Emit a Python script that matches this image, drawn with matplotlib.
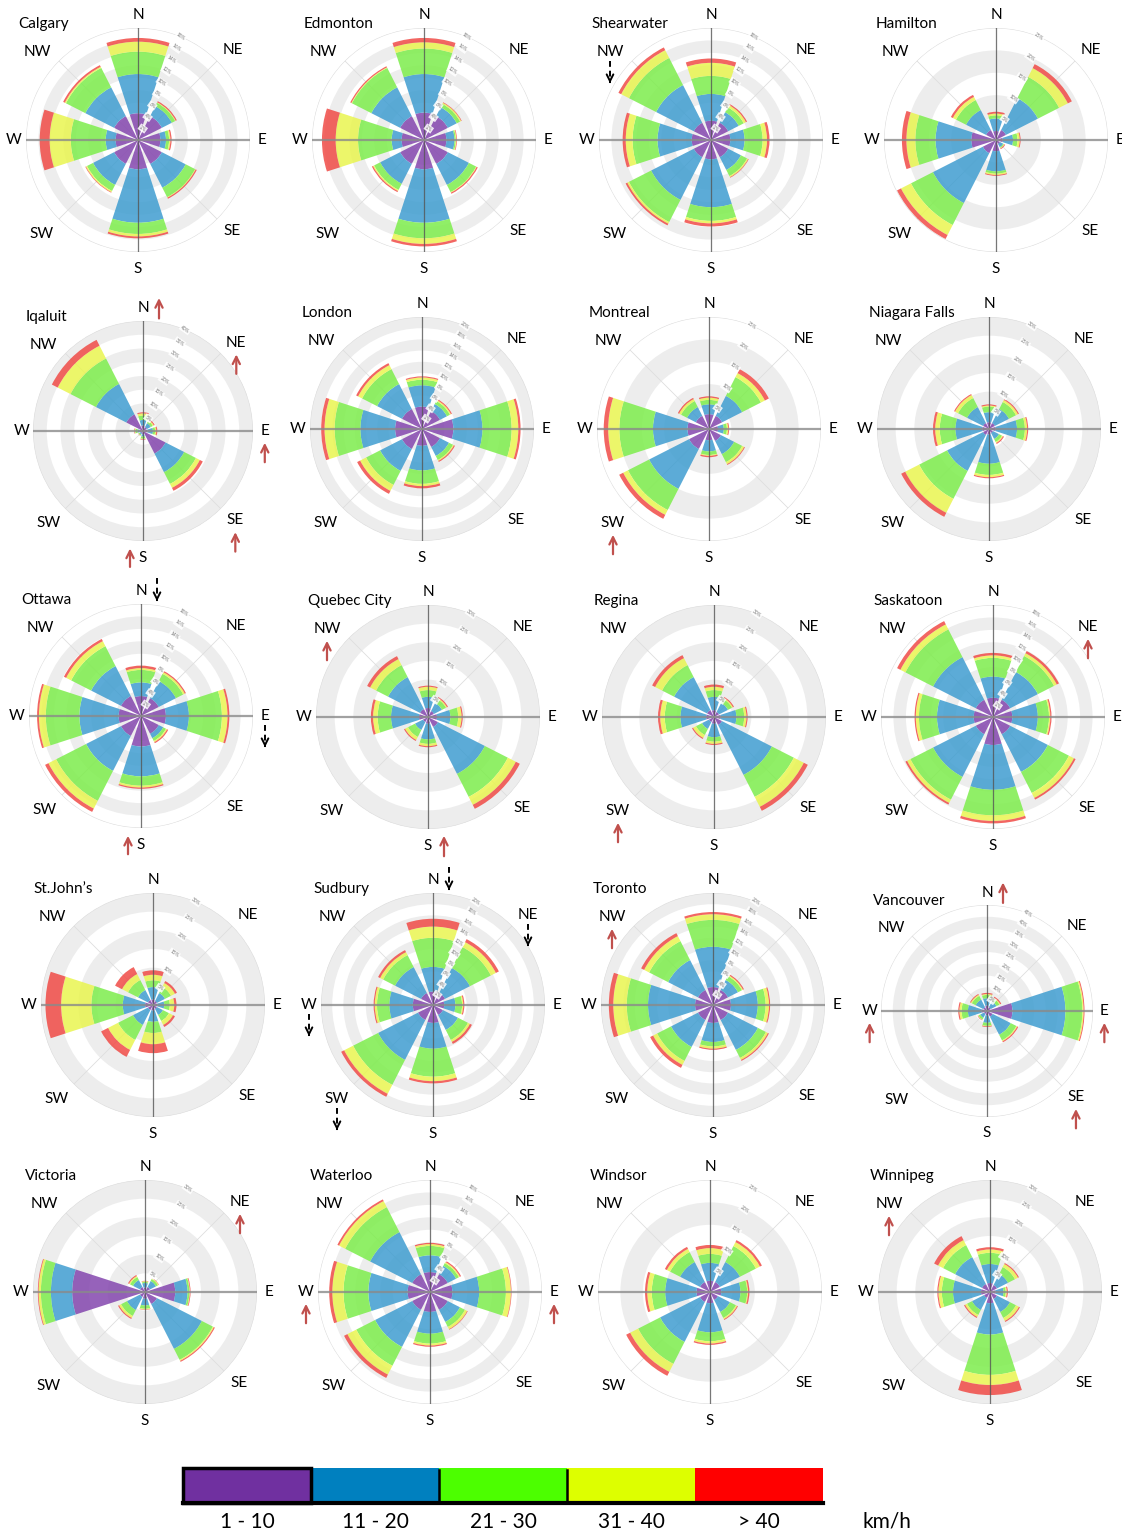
import numpy as np
import matplotlib.pyplot as plt

plt.rcParams['font.family'] = ['Lato', 'DejaVu Sans']

W, H = 1122, 1537

directions = ['N', 'NE', 'E', 'SE', 'S', 'SW', 'W', 'NW']
speed_labels = ['1 - 10', '11 - 20', '21 - 30', '31 - 40', '> 40']
speed_colors = ['#8446ae', '#3f9dd0', '#7ded4c', '#e9f550', '#f04b46']
legend_colors = ['#7030a0', '#0080bf', '#4cff00', '#ddff00', '#ff0000']

stations = ['Calgary', 'Edmonton', 'Shearwater', 'Hamilton',
            'Iqaluit', 'London', 'Montreal', 'Niagara Falls',
            'Ottawa', 'Quebec City', 'Regina', 'Saskatoon',
            'St.John\u2019s', 'Sudbury', 'Toronto', 'Vancouver',
            'Victoria', 'Waterloo', 'Windsor', 'Winnipeg']
scale_max = [18, 18, 18, 25, 40, 20, 25, 30, 18, 30, 30, 18, 30, 20, 20, 45, 30, 18, 25, 30]
scale_step = [2, 2, 2, 5, 5, 2, 5, 5, 2, 5, 5, 2, 5, 2, 2, 5, 5, 2, 5, 5]

# cumulative frequency (%) per direction, up to each speed class
calgary = [[4.3, 10.6, 14.2, 15.8, 16.4], [4.3, 6.1, 6.7, 6.8, 7.0], [3.6, 4.5, 5.0, 5.2, 5.4],
           [4.3, 8.6, 10.3, 10.4, 10.6], [4.7, 13.3, 15.1, 15.5, 15.8], [4.3, 8.1, 9.2, 9.4, 9.5],
           [3.6, 5.2, 10.8, 14.2, 15.8], [4.3, 9.5, 13.0, 13.2, 13.5]]
edmonton = [[4.4, 10.6, 14.7, 15.7, 16.4], [4.3, 5.9, 6.5, 6.7, 6.8], [3.6, 4.9, 5.1, 5.2, 5.3],
            [4.3, 8.1, 9.4, 9.5, 9.7], [4.7, 13.3, 15.8, 16.7, 17.1], [4.3, 7.9, 9.0, 9.2, 9.4],
            [3.6, 5.2, 10.6, 14.2, 16.4], [4.3, 9.5, 13.0, 13.1, 13.3]]
shearwater = [[3.1, 7.4, 10.3, 12.4, 13.1], [3.1, 5.0, 5.9, 6.3, 6.5], [3.1, 5.4, 8.3, 9.0, 9.4],
              [3.1, 5.4, 6.5, 6.7, 6.8], [3.1, 10.8, 13.0, 13.4, 13.9], [3.1, 10.8, 14.8, 15.1, 15.4],
              [3.1, 8.6, 12.6, 13.7, 14.2], [3.1, 9.9, 14.8, 16.2, 16.7]]
hamilton = [[2.0, 4.8, 5.5, 5.9, 6.3], [2.5, 10.5, 15.8, 18.0, 19.0], [1.5, 3.8, 4.8, 5.3, 5.5],
            [1.0, 1.8, 2.0, 2.1, 2.3], [2.5, 7.0, 7.5, 7.8, 8.0], [3.3, 15.8, 21.3, 23.8, 24.8],
            [5.5, 13.5, 18.0, 20.0, 21.0], [2.5, 7.5, 10.0, 10.8, 11.3]]
iqaluit = [[2.0, 4.0, 5.6, 6.4, 6.8], [1.6, 3.2, 4.0, 4.4, 4.8], [1.6, 3.6, 4.4, 4.8, 5.2],
           [9.2, 16.8, 21.6, 23.2, 24.4], [1.2, 2.0, 2.8, 3.0, 3.2], [0.8, 1.4, 1.8, 1.9, 2.0],
           [1.2, 2.0, 2.8, 3.0, 3.2], [6.8, 19.2, 29.6, 34.8, 37.2]]
london = [[4.0, 7.8, 8.8, 9.2, 9.4], [3.6, 5.0, 5.6, 5.8, 6.0], [5.6, 10.8, 16.0, 17.2, 17.6],
          [3.6, 5.4, 6.2, 6.4, 6.6], [3.0, 7.4, 9.8, 10.2, 10.6], [4.0, 8.4, 11.2, 12.4, 13.0],
          [4.8, 11.0, 15.6, 17.4, 18.0], [4.0, 9.0, 12.0, 12.8, 13.2]]
montreal = [[3.3, 5.5, 6.5, 7.0, 7.3], [3.3, 8.3, 13.0, 14.0, 15.0], [2.0, 3.3, 4.0, 4.3, 4.5],
            [3.0, 6.3, 8.3, 8.8, 9.0], [2.5, 5.0, 5.8, 6.0, 6.3], [5.0, 15.0, 20.3, 21.5, 22.5],
            [4.8, 12.5, 20.0, 22.5, 23.5], [3.3, 5.5, 7.0, 7.5, 7.8]]
niagara_falls = [[1.8, 4.5, 6.0, 6.3, 6.6], [1.8, 6.0, 8.1, 8.7, 9.0], [1.8, 7.5, 9.6, 10.2, 10.5],
                 [1.2, 3.0, 3.9, 4.2, 4.5], [1.5, 9.3, 12.3, 12.9, 13.2], [1.8, 12.6, 21.0, 25.2, 26.4],
                 [1.8, 9.0, 13.2, 14.4, 15.0], [1.8, 6.6, 9.3, 10.2, 10.5]]
ottawa = [[3.2, 5.4, 7.4, 7.7, 8.1], [3.2, 6.3, 7.6, 7.9, 8.1], [4.0, 7.7, 13.0, 13.9, 14.2],
          [3.2, 4.0, 4.5, 4.7, 4.9], [4.9, 9.7, 11.2, 11.5, 11.7], [3.6, 9.9, 15.3, 16.7, 17.3],
          [3.6, 9.9, 15.3, 16.4, 16.7], [3.6, 9.0, 12.6, 13.5, 13.9]]
quebec_city = [[2.4, 5.4, 7.2, 8.1, 8.4], [1.8, 4.2, 5.4, 5.7, 6.0], [2.4, 6.0, 8.1, 9.0, 9.3],
               [3.0, 17.1, 24.0, 26.4, 27.6], [1.8, 6.0, 7.2, 7.8, 8.1], [1.5, 3.9, 6.0, 6.9, 7.2],
               [2.4, 9.9, 13.5, 14.7, 15.3], [2.4, 12.0, 15.6, 17.4, 18.3]]
regina = [[1.8, 5.4, 7.2, 8.1, 8.7], [1.5, 4.2, 5.4, 5.7, 6.0], [1.8, 6.0, 8.1, 8.7, 9.0],
          [2.4, 17.4, 24.0, 27.0, 28.2], [1.8, 5.4, 6.6, 7.2, 7.5], [1.5, 3.6, 5.4, 6.3, 6.6],
          [2.1, 9.0, 13.2, 14.4, 15.0], [2.1, 12.0, 15.6, 17.7, 18.6]]
saskatoon = [[3.1, 6.5, 9.5, 9.9, 10.3], [3.1, 8.1, 11.0, 11.5, 11.9], [3.1, 7.2, 9.0, 9.2, 9.4],
             [3.1, 9.9, 13.7, 14.6, 14.9], [4.5, 11.7, 15.8, 16.7, 17.1], [3.1, 10.8, 14.9, 15.5, 15.8],
             [3.1, 9.0, 11.9, 12.4, 12.6], [3.1, 10.8, 15.8, 16.7, 17.3]]
st_johns = [[1.5, 4.8, 6.6, 8.1, 9.3], [1.2, 3.6, 5.4, 6.6, 7.2], [1.2, 3.0, 4.5, 5.7, 6.3],
            [1.2, 3.0, 4.8, 6.0, 6.6], [1.5, 4.5, 7.5, 10.5, 12.9], [1.5, 6.0, 10.5, 13.5, 15.6],
            [2.1, 8.1, 16.5, 24.6, 28.8], [1.5, 4.5, 7.5, 9.3, 11.4]]
sudbury = [[2.4, 6.8, 12.0, 14.0, 15.4], [2.4, 7.4, 11.6, 12.6, 13.2], [2.0, 4.0, 5.2, 5.4, 5.6],
           [2.0, 5.0, 7.0, 7.4, 7.8], [3.2, 7.8, 12.8, 13.6, 14.0], [3.0, 11.0, 16.0, 17.8, 18.4],
           [3.6, 7.8, 10.0, 10.4, 10.6], [2.4, 7.6, 10.0, 10.6, 11.0]]
toronto = [[3.2, 10.4, 15.2, 16.2, 16.6], [3.0, 5.0, 5.8, 6.0, 6.2], [3.2, 8.0, 9.4, 10.0, 10.2],
           [3.0, 9.0, 10.6, 11.0, 11.2], [3.2, 6.6, 7.4, 7.8, 8.0], [3.0, 8.4, 11.2, 12.0, 12.6],
           [3.2, 11.6, 15.4, 17.8, 18.6], [3.0, 9.0, 12.8, 13.8, 14.4]]
vancouver = [[2.3, 5.4, 6.8, 7.2, 7.7], [1.8, 4.5, 5.9, 6.3, 6.8], [10.8, 33.3, 40.5, 41.0, 41.4],
             [2.7, 11.3, 14.0, 14.4, 14.9], [1.8, 5.0, 6.3, 6.5, 6.8], [1.4, 3.2, 4.1, 4.3, 4.5],
             [2.3, 8.1, 10.8, 11.7, 12.2], [1.8, 5.4, 7.2, 7.7, 8.1]]
victoria = [[1.2, 2.4, 2.7, 2.9, 3.0], [1.5, 3.3, 3.9, 4.1, 4.2], [8.1, 11.4, 11.9, 12.0, 12.2],
            [3.6, 17.1, 20.4, 20.7, 21.0], [1.8, 3.6, 4.5, 4.7, 4.8], [1.5, 5.4, 7.2, 7.8, 8.1],
            [19.5, 25.2, 27.9, 28.5, 28.7], [1.5, 3.6, 4.5, 4.8, 5.1]]
waterloo = [[3.2, 5.9, 7.4, 7.7, 7.9], [3.2, 4.7, 5.2, 5.4, 5.6], [3.6, 7.9, 12.2, 13.0, 13.1],
            [3.2, 5.4, 6.3, 6.7, 6.8], [3.2, 6.7, 8.3, 8.6, 8.8], [3.2, 9.9, 13.3, 14.9, 15.5],
            [3.6, 9.9, 13.9, 15.7, 16.2], [3.2, 10.8, 15.3, 16.4, 16.7]]
windsor = [[2.5, 6.5, 8.5, 9.8, 10.5], [2.5, 7.5, 11.5, 12.5, 13.0], [2.5, 6.8, 8.3, 8.5, 8.8],
           [2.0, 5.0, 6.5, 6.8, 7.0], [2.5, 9.0, 11.0, 11.5, 11.8], [2.5, 12.5, 18.0, 20.0, 21.0],
           [3.0, 10.0, 13.0, 14.0, 14.5], [2.5, 7.5, 10.0, 10.8, 11.3]]
winnipeg = [[2.4, 7.5, 10.5, 11.4, 12.0], [2.1, 5.4, 7.5, 8.4, 8.7], [1.5, 3.6, 4.2, 4.5, 4.8],
            [2.1, 6.0, 7.8, 8.7, 9.0], [3.0, 11.4, 22.2, 24.9, 27.6], [1.8, 5.4, 6.9, 7.5, 7.8],
            [2.4, 9.9, 12.9, 13.8, 14.1], [2.4, 10.5, 14.1, 15.6, 16.8]]

station_data = [calgary, edmonton, shearwater, hamilton, iqaluit, london, montreal, niagara_falls,
                ottawa, quebec_city, regina, saskatoon, st_johns, sudbury, toronto, vancouver,
                victoria, waterloo, windsor, winnipeg]

# markers next to direction labels: (station, direction, side)
red_arrows = [('Iqaluit', 'N', 'right'), ('Iqaluit', 'NE', 'below'), ('Iqaluit', 'E', 'below'),
              ('Iqaluit', 'SE', 'below'), ('Iqaluit', 'S', 'left'), ('Montreal', 'SW', 'below'),
              ('Ottawa', 'S', 'left'), ('Quebec City', 'NW', 'below'), ('Quebec City', 'S', 'right'),
              ('Regina', 'SW', 'below'), ('Saskatoon', 'NE', 'below'), ('Toronto', 'NW', 'below'),
              ('Vancouver', 'N', 'right'), ('Vancouver', 'W', 'below'), ('Vancouver', 'E', 'below'),
              ('Vancouver', 'SE', 'below'), ('Victoria', 'NE', 'below'), ('Waterloo', 'W', 'below'),
              ('Waterloo', 'E', 'below'), ('Winnipeg', 'NW', 'below')]
black_arrows = [('Shearwater', 'NW', 'below'), ('Ottawa', 'N', 'right'), ('Ottawa', 'E', 'below'),
                ('Sudbury', 'N', 'right'), ('Sudbury', 'NE', 'below'), ('Sudbury', 'W', 'below'),
                ('Sudbury', 'SW', 'below')]

# layout (pixel centres of each rose)
centers = [(138, 140), (424, 140), (711, 140), (996, 140),
           (143, 431), (422, 429), (709, 429), (989, 429),
           (141, 716), (428, 717), (714, 717), (993, 717),
           (153, 1005), (433, 1005), (713, 1005), (987, 1011),
           (145, 1292), (430, 1292), (710, 1292), (990, 1292)]
radii = [112] * 20
radii[4] = 110
radii[15] = 106
label_offsets = [(0, -125), (95, -90), (124, 0), (94, 91), (0, 129), (-96, 94), (-124, 0), (-101, -88)]

fig = plt.figure(figsize=(W / 100, H / 100), dpi=100)
label_pos = {}

theta = np.deg2rad(np.arange(8) * 45)
for i, name in enumerate(stations):
    cx, cy = centers[i]
    R = radii[i]
    rmax, step = scale_max[i], scale_step[i]
    ax = fig.add_axes([(cx - R) / W, 1 - (cy + R) / H, 2 * R / W, 2 * R / H], projection='polar')
    ax.set_theta_zero_location('N')
    ax.set_theta_direction(-1)
    ax.set_axis_off()

    # alternating background rings
    nb = int(round(rmax / step))
    for k in range(nb):
        if k % 2 == 1:
            ax.bar(0, step, width=2 * np.pi, bottom=k * step, color='#ededed',
                   edgecolor='none', zorder=0)
    circ = np.linspace(0, 2 * np.pi, 300)
    ax.plot(circ, np.full_like(circ, rmax), color='#dcdcdc', lw=0.8, zorder=1)
    for a in [45, 135, 225, 315]:
        ax.plot([np.deg2rad(a)] * 2, [0, rmax], color='#dedede', lw=0.6, zorder=1)

    cum = np.array(station_data[i])
    bottoms = np.hstack([np.zeros((8, 1)), cum[:, :-1]])
    for k in range(5):
        ax.bar(theta, cum[:, k] - bottoms[:, k], width=np.deg2rad(36), bottom=bottoms[:, k],
               color=speed_colors[k], alpha=0.85, edgecolor='none', zorder=2)

    ax.plot([0, 0], [0, rmax], color='#555555', lw=0.9, alpha=0.8, zorder=3)
    ax.plot([np.pi, np.pi], [0, rmax], color='#555555', lw=0.9, alpha=0.8, zorder=3)
    ax.plot([np.pi / 2] * 2, [0, rmax], color='#8a8a8a', lw=1.6, alpha=0.8, zorder=3)
    ax.plot([3 * np.pi / 2] * 2, [0, rmax], color='#8a8a8a', lw=1.6, alpha=0.8, zorder=3)

    for v in range(step, rmax + 1, step):
        ax.text(np.deg2rad(22.5), v, f'{v}%', fontsize=3.5, color='#777777',
                rotation=-35, ha='center', va='center', zorder=4,
                bbox=dict(facecolor='white', edgecolor='none', pad=0.6, alpha=0.85))
    ax.set_ylim(0, rmax)

    s = R / 112
    for d, (dx, dy) in zip(directions, label_offsets):
        label_pos[(name, d)] = (cx + dx * s, cy + dy * s)

ov = fig.add_axes([0, 0, 1, 1])
ov.set_xlim(0, W)
ov.set_ylim(H, 0)
ov.set_axis_off()
ov.patch.set_alpha(0)

for i, name in enumerate(stations):
    cx, cy = centers[i]
    s = radii[i] / 112
    ov.text(cx - 120 * s, cy - 116 * s, name, ha='left', va='center', fontsize=11)
    for d in directions:
        lx, ly = label_pos[(name, d)]
        ov.text(lx, ly, d, ha='center', va='center', fontsize=11)


def arrow_span(name, d, side):
    lx, ly = label_pos[(name, d)]
    if side == 'below':
        return lx, ly + 9, ly + 34
    if side == 'right':
        return lx + 16, ly - 13, ly + 13
    return lx - 13, ly - 12, ly + 12


for name, d, side in red_arrows:
    x, top, bot = arrow_span(name, d, side)
    ov.annotate('', xy=(x, top), xytext=(x, bot),
                arrowprops=dict(arrowstyle='->', color='#c0504d', lw=1.6, mutation_scale=13))

for name, d, side in black_arrows:
    x, top, bot = arrow_span(name, d, side)
    ov.plot([x, x], [top, bot - 5], color='black', lw=1.4, ls=(0, (3, 2)))
    ov.annotate('', xy=(x, bot), xytext=(x, bot - 7),
                arrowprops=dict(arrowstyle='->', color='black', lw=1.4, mutation_scale=12))

# speed legend
x0, bw, y0, bh = 183, 128, 1468, 35
for k in range(5):
    ov.add_patch(plt.Rectangle((x0 + k * bw, y0), bw, bh, facecolor=legend_colors[k],
                               edgecolor='none', zorder=5))
    ov.text(x0 + k * bw + bw / 2, y0 + bh + 19, speed_labels[k], ha='center', va='center',
            fontsize=15)
ov.add_patch(plt.Rectangle((x0, y0), bw, bh, facecolor='none', edgecolor='black', lw=2.5, zorder=6))
ov.plot([x0, x0 + 5 * bw], [y0 + bh, y0 + bh], color='black', lw=3, zorder=6)
for k in range(1, 4):
    ov.plot([x0 + k * bw] * 2, [y0 + 2, y0 + bh], color='black', lw=1.8, zorder=6)
ov.text(887, y0 + bh + 19, 'km/h', ha='center', va='center', fontsize=15)

fig.savefig('out.png', dpi=100)
